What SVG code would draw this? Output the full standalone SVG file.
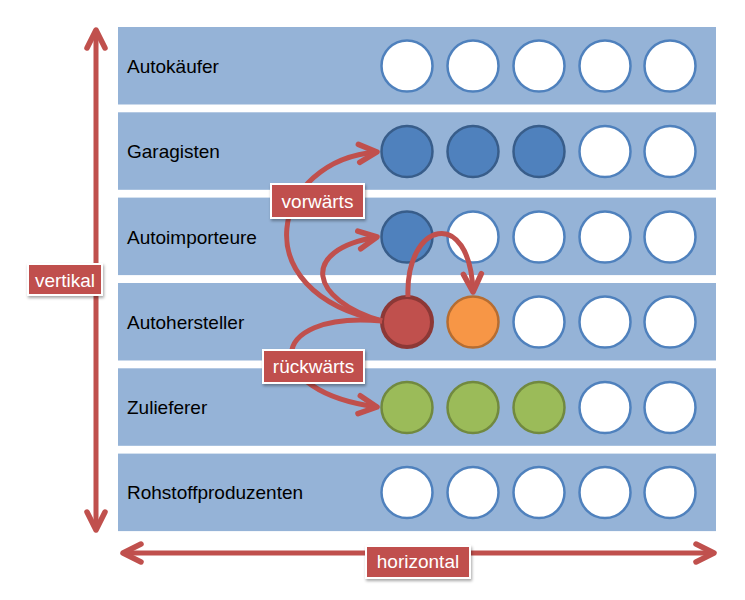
<svg xmlns="http://www.w3.org/2000/svg" width="745" height="600" viewBox="0 0 745 600">
<style>
.row{fill:#95b3d7}
.rl{font-family:"Liberation Sans",Arial,sans-serif;font-size:19px;fill:#000}
.cw{fill:#fff;stroke:#4f81bd;stroke-width:2.5}
.cb{fill:#4f81bd;stroke:#385d8a;stroke-width:2.5}
.cg{fill:#9bbb59;stroke:#71893f;stroke-width:2.5}
.co{fill:#f79646;stroke:#b66d31;stroke-width:2.5}
.cr{fill:#c0504d;stroke:#8c3836;stroke-width:4}
.arr{fill:none;stroke:#c0504d;stroke-width:5;marker-end:url(#ah)}
.box{fill:#c0504d;stroke:#fff;stroke-width:2;filter:url(#sh)}
.lt{font-family:"Liberation Sans",Arial,sans-serif;font-size:19px;fill:#fff;text-anchor:middle}
</style>
<defs>
<marker id="ah" viewBox="-25 -15 30 30" refX="0" refY="0" markerWidth="30" markerHeight="30" markerUnits="userSpaceOnUse" orient="auto-start-reverse">
<path d="M-18,-9 L0,0 L-18,9" fill="none" stroke="#c0504d" stroke-width="5.5" stroke-linecap="round" stroke-linejoin="round"/>
</marker>
<filter id="sh" x="-20%" y="-30%" width="140%" height="170%">
<feDropShadow dx="1" dy="2" stdDeviation="1.5" flood-color="#000" flood-opacity="0.35"/>
</filter>
</defs>

<g id="row-autokaeufer">
<rect class="row" x="118" y="27" width="598" height="77.5"/>
<text class="rl" x="127" y="73">Autokäufer</text>
<circle class="cw" cx="407" cy="66" r="25.5"/><circle class="cw" cx="473" cy="66" r="25.5"/><circle class="cw" cx="539" cy="66" r="25.5"/><circle class="cw" cx="605" cy="66" r="25.5"/><circle class="cw" cx="670" cy="66" r="25.5"/>
</g>
<g id="row-garagisten">
<rect class="row" x="118" y="112.3" width="598" height="77.5"/>
<text class="rl" x="127" y="158">Garagisten</text>
<circle class="cb" cx="407" cy="151.5" r="25.5"/><circle class="cb" cx="473" cy="151.5" r="25.5"/><circle class="cb" cx="539" cy="151.5" r="25.5"/><circle class="cw" cx="605" cy="151.5" r="25.5"/><circle class="cw" cx="670" cy="151.5" r="25.5"/>
</g>
<g id="row-autoimporteure">
<rect class="row" x="118" y="197.6" width="598" height="77.5"/>
<text class="rl" x="127" y="244">Autoimporteure</text>
<circle class="cb" cx="407" cy="237" r="25.5"/><circle class="cw" cx="473" cy="237" r="25.5"/><circle class="cw" cx="539" cy="237" r="25.5"/><circle class="cw" cx="605" cy="237" r="25.5"/><circle class="cw" cx="670" cy="237" r="25.5"/>
</g>
<g id="row-autohersteller">
<rect class="row" x="118" y="283" width="598" height="77.5"/>
<text class="rl" x="127" y="329">Autohersteller</text>
<circle class="cr" cx="407" cy="322" r="25"/><circle class="co" cx="473" cy="322" r="25.5"/><circle class="cw" cx="539" cy="322" r="25.5"/><circle class="cw" cx="605" cy="322" r="25.5"/><circle class="cw" cx="670" cy="322" r="25.5"/>
</g>
<g id="row-zulieferer">
<rect class="row" x="118" y="368.3" width="598" height="77.5"/>
<text class="rl" x="127" y="414">Zulieferer</text>
<circle class="cg" cx="407" cy="407.5" r="25.5"/><circle class="cg" cx="473" cy="407.5" r="25.5"/><circle class="cg" cx="539" cy="407.5" r="25.5"/><circle class="cw" cx="605" cy="407.5" r="25.5"/><circle class="cw" cx="670" cy="407.5" r="25.5"/>
</g>
<g id="row-rohstoffproduzenten">
<rect class="row" x="118" y="453.6" width="598" height="77.5"/>
<text class="rl" x="127" y="499">Rohstoffproduzenten</text>
<circle class="cw" cx="407" cy="492.5" r="25.5"/><circle class="cw" cx="473" cy="492.5" r="25.5"/><circle class="cw" cx="539" cy="492.5" r="25.5"/><circle class="cw" cx="605" cy="492.5" r="25.5"/><circle class="cw" cx="670" cy="492.5" r="25.5"/>
</g>

<g id="connectors">
<path class="arr" d="M96,30 L96,530" marker-start="url(#ah)"/>
<path class="arr" d="M123,553 L714,553" marker-start="url(#ah)"/>
<path class="arr" d="M382,321 C240,292 272,160 377,152"/>
<path class="arr" d="M382,321 C310,300 298,250 377,237"/>
<path class="arr" d="M382,321 C262,310 262,392 377,407"/>
<path class="arr" d="M408,297 C405,222 470,205 473,292"/>
</g>

<g id="label-vertikal">
<rect class="box" x="28" y="264" width="74" height="31"/>
<text class="lt" x="65" y="287">vertikal</text>
</g>
<g id="label-horizontal">
<rect class="box" x="366" y="546" width="104" height="32"/>
<text class="lt" x="418" y="568">horizontal</text>
</g>
<g id="label-vorwaerts">
<rect class="box" x="271" y="184" width="93" height="34"/>
<text class="lt" x="317.5" y="207.5">vorwärts</text>
</g>
<g id="label-rueckwaerts">
<rect class="box" x="263" y="350" width="101" height="33"/>
<text class="lt" x="313.5" y="372.5">rückwärts</text>
</g>
</svg>
